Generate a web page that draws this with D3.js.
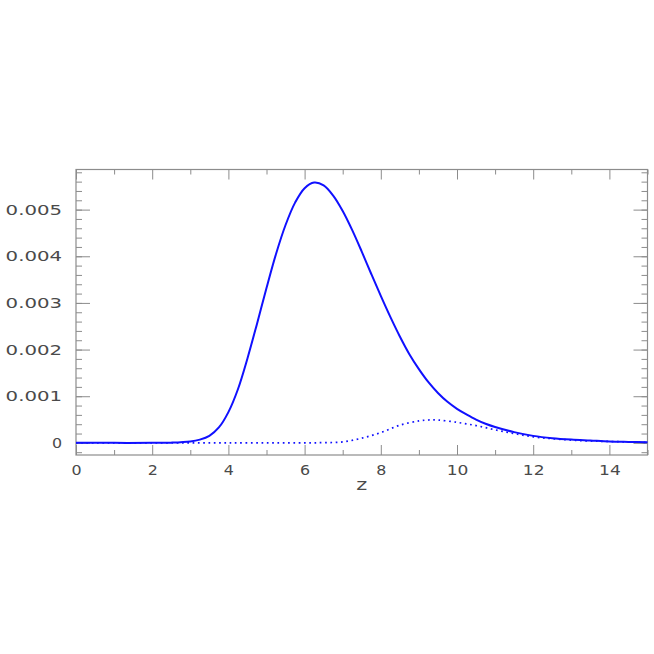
<!DOCTYPE html>
<html>
<head>
<meta charset="utf-8">
<script src="https://cdn.jsdelivr.net/npm/d3@7"></script>
<style>
  body { margin: 0; background: #fff; }
  svg { display: block; }
  text { font-family: "DejaVu Sans", sans-serif; fill: #4a4a4a; }
</style>
</head>
<body>
<div id="chart-container"></div>
<script>
// values
const zSolid = [0, 1, 2, 2.5, 3, 3.25, 3.5, 3.75, 4, 4.25, 4.5, 4.75, 5, 5.25, 5.5, 5.75, 6, 6.25, 6.5, 6.75, 7, 7.25, 7.5, 7.75, 8, 8.25, 8.5, 8.75, 9, 9.25, 9.5, 9.75, 10, 10.25, 10.5, 10.75, 11, 11.5, 12, 12.5, 13, 13.5, 14, 14.5, 15];
const solidValues = [0, 0, 0, 0.000005, 0.00003, 0.00007, 0.00015, 0.00033, 0.00066, 0.00115, 0.00181, 0.00255, 0.00332, 0.00405, 0.00467, 0.00515, 0.00546, 0.00558, 0.00552, 0.0053, 0.00497, 0.00456, 0.0041, 0.00362, 0.00315, 0.0027, 0.00228, 0.0019, 0.00158, 0.0013, 0.00107, 0.00088, 0.00073, 0.00061, 0.0005, 0.00041, 0.00034, 0.00023, 0.00015, 0.0001, 0.00007, 0.00005, 0.00003, 0.00002, 0.000012];

const zDotted = [0, 2, 4, 6, 6.5, 7, 7.5, 8, 8.5, 9, 9.25, 9.5, 10, 10.5, 11, 11.5, 12, 12.5, 13, 13.5, 14, 15];
const dottedValues = [0, 0, 0, 0, 0.000005, 0.00002, 0.0001, 0.00022, 0.00038, 0.00047, 0.00049, 0.00049, 0.00044, 0.00037, 0.00028, 0.0002, 0.00013, 0.00009, 0.00006, 0.00004, 0.00003, 0.00001];

const xTickValues = [0, 2, 4, 6, 8, 10, 12, 14];
const xTickLabels = ["0", "2", "4", "6", "8", "10", "12", "14"];
const xMinorTicks = [1, 3, 5, 7, 9, 11, 13, 15];
const yTickValues = [0, 0.001, 0.002, 0.003, 0.004, 0.005];
const yTickLabels = ["0", "0.001", "0.002", "0.003", "0.004", "0.005"];
const yMinorTicks = d3.range(-1, 30).map((i) => i * 0.0002).filter((v) => v > -0.00026 && v < 0.00586);
const xTitle = "z";

const W = 654, H = 654;
const frame = { left: 76, right: 647.5, top: 169.5, bottom: 455 };

const svg = d3
  .select("#chart-container")
  .append("svg")
  .attr("width", W)
  .attr("height", H);

const x = d3.scaleLinear().domain([0, 15]).range([frame.left, frame.right]);
const y = d3.scaleLinear().domain([-0.00026, 0.00586]).range([frame.bottom, frame.top]);

const gray = "#8c8c8c";

// stretch labels wide like the original plotting font
const labelWidth = (s) => s.replace(/\./g, "").length * 11.6 + (s.split(".").length - 1) * 11.5;

function styleAxis(g) {
  g.select(".domain").remove();
  g.selectAll(".tick line").attr("stroke", gray).attr("stroke-width", 1);
  g.selectAll(".tick text")
    .attr("fill", "#555")
    .style("font-size", "14.5px")
    .style("font-family", '"DejaVu Sans", sans-serif');
}

// minor ticks
svg.append("g")
  .attr("transform", `translate(0,${frame.bottom})`)
  .call(d3.axisBottom(x).tickValues(xMinorTicks).tickSize(-5).tickFormat(""))
  .call(styleAxis);
svg.append("g")
  .attr("transform", `translate(0,${frame.top})`)
  .call(d3.axisTop(x).tickValues(xMinorTicks).tickSize(-5).tickFormat(""))
  .call(styleAxis);
svg.append("g")
  .attr("transform", `translate(${frame.left},0)`)
  .call(d3.axisLeft(y).tickValues(yMinorTicks).tickSize(-6).tickFormat(""))
  .call(styleAxis);
svg.append("g")
  .attr("transform", `translate(${frame.right},0)`)
  .call(d3.axisRight(y).tickValues(yMinorTicks).tickSize(-6).tickFormat(""))
  .call(styleAxis);

// major ticks
const xAxis = svg.append("g")
  .attr("transform", `translate(0,${frame.bottom})`)
  .call(d3.axisBottom(x).tickValues(xTickValues).tickSize(-10).tickPadding(9.5)
    .tickFormat((d, i) => xTickLabels[i]))
  .call(styleAxis);
xAxis.selectAll(".tick text").attr("textLength", (d, i) => labelWidth(xTickLabels[i]) - 1.5)
  .attr("lengthAdjust", "spacingAndGlyphs");

svg.append("g")
  .attr("transform", `translate(0,${frame.top})`)
  .call(d3.axisTop(x).tickValues(xTickValues).tickSize(-10).tickFormat(""))
  .call(styleAxis);

const yAxis = svg.append("g")
  .attr("transform", `translate(${frame.left},0)`)
  .call(d3.axisLeft(y).tickValues(yTickValues).tickSize(-14).tickPadding(14)
    .tickFormat((d, i) => yTickLabels[i]))
  .call(styleAxis);
yAxis.selectAll(".tick text").attr("textLength", (d, i) => labelWidth(yTickLabels[i]) - 1.5)
  .attr("lengthAdjust", "spacingAndGlyphs");

svg.append("g")
  .attr("transform", `translate(${frame.right},0)`)
  .call(d3.axisRight(y).tickValues(yTickValues).tickSize(-14).tickFormat(""))
  .call(styleAxis);

// frame
svg.append("rect")
  .attr("x", frame.left)
  .attr("y", frame.top)
  .attr("width", frame.right - frame.left)
  .attr("height", frame.bottom - frame.top)
  .attr("fill", "none")
  .attr("stroke", gray)
  .attr("stroke-width", 1.2);

// axis title
svg.append("text")
  .attr("x", x(7.5))
  .attr("y", 490)
  .attr("text-anchor", "middle")
  .attr("textLength", 11)
  .attr("lengthAdjust", "spacingAndGlyphs")
  .attr("fill", "#555")
  .style("font-size", "15px")
  .text(xTitle);

// curves
const line = d3.line()
  .x((d) => x(d[0]))
  .y((d) => y(d[1]))
  .curve(d3.curveCatmullRom.alpha(0.5));

svg.append("path")
  .datum(zDotted.map((z, i) => [z, dottedValues[i]]))
  .attr("fill", "none")
  .attr("stroke", "#1010ff")
  .attr("stroke-width", 1.7)
  .attr("stroke-dasharray", "1.7,3.6")
  .attr("d", line);

svg.append("path")
  .datum(zSolid.map((z, i) => [z, solidValues[i]]))
  .attr("fill", "none")
  .attr("stroke", "#1010ff")
  .attr("stroke-width", 2)
  .attr("d", line);
</script>
</body>
</html>
